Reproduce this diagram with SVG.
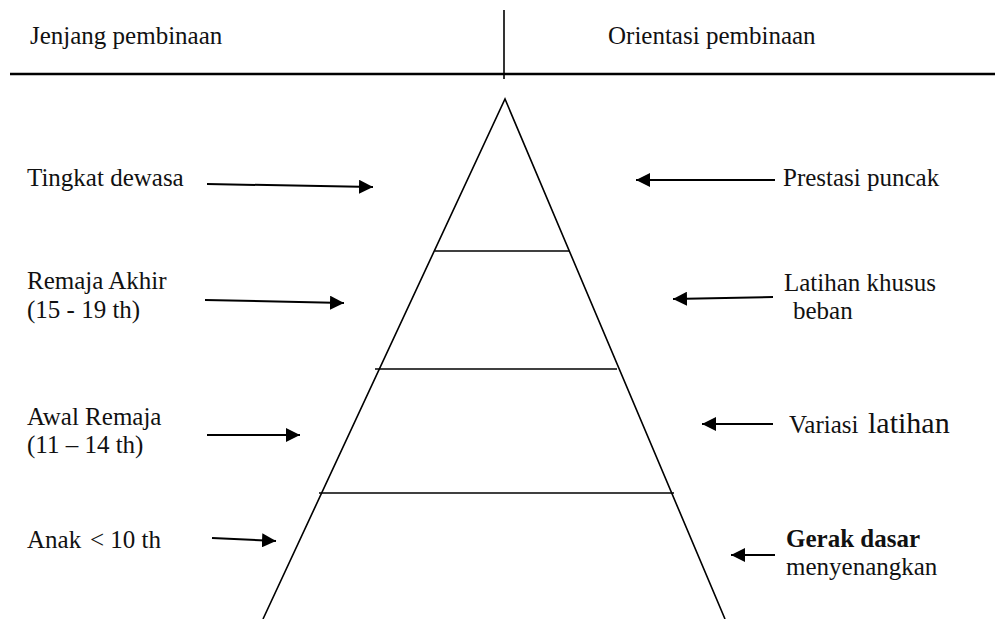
<svg xmlns="http://www.w3.org/2000/svg" width="995" height="619" viewBox="0 0 995 619">
<style>
  text { font-family: "Times New Roman", "Liberation Serif", Tinos, "DejaVu Serif", serif; font-size: 25px; fill: #111; }
  .bold { font-weight: bold; }
  .big { font-size: 30px; }
  .line { stroke: #000; stroke-width: 1.6; fill: none; }
  .arrow { stroke: #000; stroke-width: 2; fill: none; marker-end: url(#ah); }
</style>
<defs>
  <marker id="ah" markerUnits="userSpaceOnUse" viewBox="0 0 14 14" markerWidth="14" markerHeight="14" refX="14" refY="7" orient="auto">
    <path d="M0,0 L14,7 L0,14 z" fill="#000"/>
  </marker>
</defs>
<rect width="995" height="619" fill="#fff"/>

<g id="header">
  <line x1="10" y1="74" x2="995" y2="74" stroke="#000" stroke-width="2.5"/>
  <line x1="504" y1="10" x2="504" y2="79" stroke="#000" stroke-width="1.6"/>
  <text x="30" y="44">Jenjang pembinaan</text>
  <text x="608" y="44">Orientasi pembinaan</text>
</g>

<g id="pyramid">
  <polyline class="line" points="263,619 505,99 725,619"/>
  <line class="line" x1="435" y1="251" x2="569" y2="251"/>
  <line class="line" x1="375" y1="369" x2="617" y2="369"/>
  <line class="line" x1="319" y1="493" x2="674" y2="493"/>
</g>

<g id="left-labels">
  <g id="tingkat-dewasa"><text x="27" y="186">Tingkat dewasa</text></g>
  <g id="remaja-akhir"><text x="27" y="289">Remaja Akhir</text><text x="27" y="318">(15 - 19 th)</text></g>
  <g id="awal-remaja"><text x="27" y="425">Awal Remaja</text><text x="27" y="453">(11 – 14 th)</text></g>
  <g id="anak"><text x="27" y="548">Anak<tspan x="90">&lt; 10 th</tspan></text></g>
</g>

<g id="right-labels">
  <g id="prestasi-puncak"><text x="783" y="186">Prestasi puncak</text></g>
  <g id="latihan-khusus"><text x="784" y="291">Latihan khusus</text><text x="793" y="319">beban</text></g>
  <g id="variasi-latihan"><text x="789" y="433">Variasi <tspan class="big" x="868">latihan</tspan></text></g>
  <g id="gerak-dasar"><text class="bold" x="786" y="547">Gerak dasar</text><text x="786" y="575">menyenangkan</text></g>
</g>

<g id="connectors">
  <line class="arrow" x1="207" y1="184" x2="373" y2="187"/>
  <line class="arrow" x1="205" y1="300" x2="344" y2="303"/>
  <line class="arrow" x1="207" y1="435" x2="300" y2="435"/>
  <line class="arrow" x1="212" y1="538" x2="276" y2="541"/>
  <line class="arrow" x1="775" y1="180" x2="636" y2="180"/>
  <line class="arrow" x1="773" y1="297" x2="673" y2="299"/>
  <line class="arrow" x1="773" y1="424" x2="702" y2="424"/>
  <line class="arrow" x1="775" y1="555" x2="731" y2="555"/>
</g>
</svg>
